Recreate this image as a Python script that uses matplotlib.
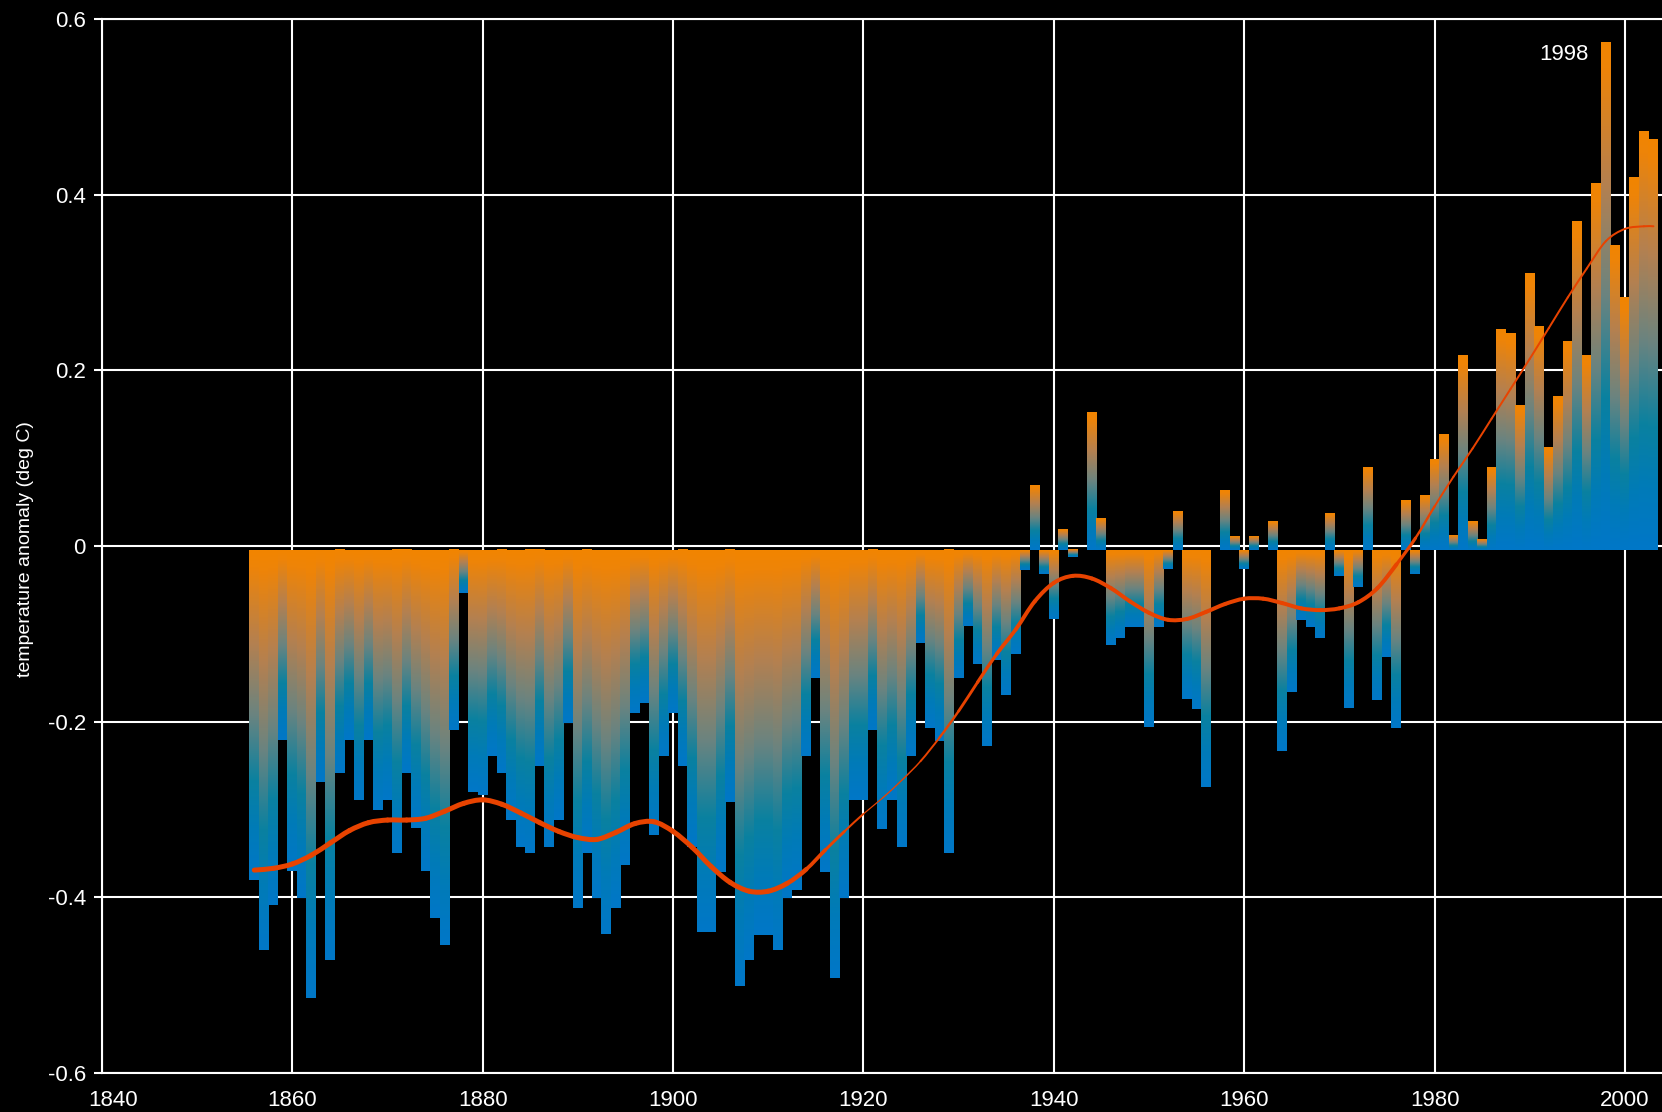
import numpy as np
import matplotlib
matplotlib.use("Agg")
import matplotlib.pyplot as plt
from matplotlib.colors import LinearSegmentedColormap
from matplotlib.collections import PathCollection
from matplotlib.path import Path
from matplotlib.transforms import ScaledTranslation

# annual global temperature anomaly (deg C)
years = np.arange(1856, 2004)
anomaly = [
    -0.380, -0.460, -0.409, -0.221,                                   # 1856-59
    -0.370, -0.401, -0.515, -0.269, -0.471, -0.259, -0.221, -0.289, -0.221, -0.301,  # 1860s
    -0.289, -0.350, -0.259, -0.321, -0.370, -0.423, -0.454, -0.210, -0.053, -0.280,  # 1870s
    -0.283, -0.239, -0.259, -0.312, -0.343, -0.350, -0.251, -0.343, -0.312, -0.201,  # 1880s
    -0.412, -0.350, -0.401, -0.442, -0.412, -0.363, -0.190, -0.179, -0.329, -0.239,  # 1890s
    -0.190, -0.251, -0.343, -0.439, -0.439, -0.371, -0.292, -0.501, -0.471, -0.443,  # 1900s
    -0.443, -0.460, -0.401, -0.392, -0.239, -0.150, -0.371, -0.492, -0.401, -0.289,  # 1910s
    -0.289, -0.210, -0.322, -0.289, -0.343, -0.239, -0.110, -0.207, -0.222, -0.350,  # 1920s
    -0.150, -0.091, -0.134, -0.228, -0.130, -0.170, -0.123, -0.027, 0.068, -0.032,   # 1930s
    -0.083, 0.018, -0.013, -0.005, 0.151, 0.031, -0.113, -0.105, -0.092, -0.092,     # 1940s
    -0.206, -0.092, -0.026, 0.039, -0.174, -0.186, -0.274, -0.005, 0.063, 0.010,     # 1950s
    -0.026, 0.010, -0.005, 0.027, -0.233, -0.166, -0.084, -0.092, -0.105, 0.037,     # 1960s
    -0.034, -0.184, -0.047, 0.089, -0.175, -0.126, -0.207, 0.051, -0.032, 0.057,     # 1970s
    0.098, 0.127, 0.011, 0.217, 0.027, 0.007, 0.089, 0.246, 0.241, 0.159,            # 1980s
    0.310, 0.249, 0.112, 0.170, 0.232, 0.369, 0.217, 0.412, 0.573, 0.342,            # 1990s
    0.282, 0.419, 0.471, 0.462,                                                      # 2000-03
]

# smoothed curve
smooth_years = [1856, 1858, 1860, 1862, 1864, 1866, 1868, 1870, 1872, 1874,
                1876, 1878, 1880, 1882, 1884, 1886, 1888, 1890, 1892, 1894,
                1896, 1898, 1900, 1902, 1904, 1906, 1908, 1910, 1912, 1914,
                1916, 1918, 1920, 1922, 1924, 1926, 1928, 1930, 1932, 1934,
                1936, 1938, 1940, 1942, 1944, 1946, 1948, 1950, 1952, 1954,
                1956, 1958, 1960, 1962, 1964, 1966, 1968, 1970, 1972, 1974,
                1976, 1978, 1980, 1982, 1984, 1986, 1988, 1990, 1992, 1994,
                1996, 1998, 2000, 2002, 2003]
smooth_vals = [-0.369, -0.367, -0.362, -0.352, -0.338, -0.324, -0.315, -0.312, -0.312, -0.310,
               -0.302, -0.293, -0.289, -0.294, -0.304, -0.315, -0.325, -0.332, -0.334, -0.326,
               -0.316, -0.314, -0.325, -0.343, -0.365, -0.383, -0.393, -0.393, -0.384, -0.368,
               -0.346, -0.325, -0.305, -0.287, -0.267, -0.245, -0.218, -0.188, -0.155, -0.123,
               -0.095, -0.063, -0.042, -0.034, -0.037, -0.048, -0.063, -0.076, -0.084, -0.083,
               -0.075, -0.066, -0.060, -0.060, -0.065, -0.071, -0.073, -0.071, -0.064, -0.048,
               -0.021, 0.009, 0.045, 0.079, 0.111, 0.145, 0.179, 0.213, 0.248, 0.283,
               0.316, 0.347, 0.361, 0.364, 0.364]

x_ticks = [1840, 1860, 1880, 1900, 1920, 1940, 1960, 1980, 2000]
y_ticks = [-0.6, -0.4, -0.2, 0, 0.2, 0.4, 0.6]
y_tick_labels = ['-0.6', '-0.4', '-0.2', '0', '0.2', '0.4', '0.6']

BASE = -0.005  # bars hang a few pixels below the zero grid line

plt.rcParams['font.family'] = ['Liberation Sans', 'DejaVu Sans']
plt.rcParams['axes.unicode_minus'] = False

fig = plt.figure(figsize=(16.62, 11.12), dpi=100, facecolor='black')
ax = fig.add_axes([102 / 1662, 39 / 1112, 1560 / 1662, 1054 / 1112])
ax.set_facecolor('black')

# orange at the top of each bar fading to blue at the bottom
cmap = LinearSegmentedColormap.from_list('bars', [
    (0.0, '#0077c8'), (0.15, '#007bb8'), (0.3, '#0a81a0'),
    (0.5, '#6a8480'), (0.72, '#b48050'), (0.95, '#ee8408'), (1.0, '#f28500')])
grad = np.linspace(0, 1, 256).reshape(-1, 1)

heights = np.array(anomaly) - BASE
bars = ax.bar(years, heights, bottom=BASE, width=1.05, color='none', linewidth=0)
for p in bars.patches:
    x0, w = p.get_x(), p.get_width()
    y0, h = p.get_y(), p.get_height()
    lo, hi = min(y0, y0 + h), max(y0, y0 + h)
    if hi - lo < 1e-6:
        continue
    ax.imshow(grad, extent=[x0, x0 + w, lo, hi], origin='lower', aspect='auto',
              cmap=cmap, interpolation='bilinear', zorder=2)

# smoothed line drawn as bezier pieces through the read points, thickness varies
pts = np.column_stack([smooth_years, smooth_vals]).astype(float)
tang = np.gradient(pts, axis=0)
paths = []
for i in range(len(pts) - 1):
    p0, p3 = pts[i], pts[i + 1]
    p1 = p0 + tang[i] / 3
    p2 = p3 - tang[i + 1] / 3
    paths.append(Path([p0, p1, p2, p3],
                      [Path.MOVETO, Path.CURVE4, Path.CURVE4, Path.CURVE4]))
mid = (pts[:-1, 0] + pts[1:, 0]) / 2
lw = np.interp(mid, [1856, 1912, 1921, 1925, 1936, 1975, 1980, 2003],
               [5, 5, 1.2, 1.5, 4, 4, 2, 2]) * 0.72
pc = PathCollection(paths, facecolors='none', edgecolors='#e84300', linewidths=lw,
                    transform=ax.transData, zorder=4)
pc.set_capstyle('round')
pc.set_joinstyle('round')
ax.add_collection(pc, autolim=False)

ax.set_xlim(1840, 2003.9)
ax.set_ylim(-0.6, 0.6)
ax.set_xticks(x_ticks)
ax.set_yticks(y_ticks)
ax.set_yticklabels(y_tick_labels)
ax.set_axisbelow(True)
ax.grid(True, color='white', linewidth=1.5)
for s in ['left', 'bottom', 'top']:
    ax.spines[s].set_color('white')
    ax.spines[s].set_linewidth(1.5)
ax.spines['right'].set_visible(False)
ax.tick_params(axis='y', colors='white', length=5.8, width=1.5, pad=5.8, labelsize=16)
ax.tick_params(axis='x', colors='white', length=0, pad=12, labelsize=16)

# first year label sits a little to the right of its tick
t0 = ax.xaxis.get_major_ticks()[0]
t0.label1.set_transform(t0.label1.get_transform() + ScaledTranslation(0.11, 0, fig.dpi_scale_trans))

ax.text(1996.2, 0.560, '1998', color='white', fontsize=16, ha='right', va='center', zorder=5)
fig.text(26 / 1662, 0.506, 'temperature anomaly (deg C)', rotation=90, color='white',
         fontsize=14, ha='center', va='center')

fig.savefig('out.png', dpi=100, facecolor='black')
